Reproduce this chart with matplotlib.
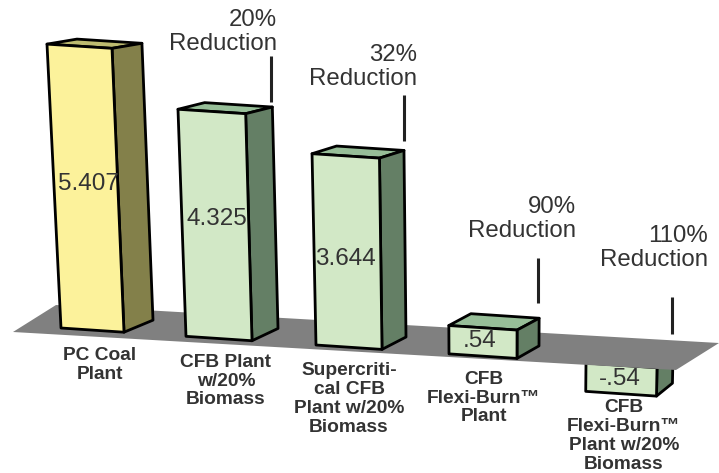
import matplotlib
matplotlib.use('Agg')
import matplotlib.pyplot as plt
from matplotlib.patches import Polygon

plt.rcParams['font.family'] = ['Liberation Sans', 'DejaVu Sans']

# Values
categories = ['PC Coal\nPlant', 'CFB Plant\nw/20%\nBiomass',
              'Supercriti-\ncal CFB\nPlant w/20%\nBiomass',
              'CFB\nFlexi-Burn™\nPlant',
              'CFB\nFlexi-Burn™\nPlant w/20%\nBiomass']
values = [5.407, 4.325, 3.644, 0.54, -0.54]
value_labels = ['5.407', '4.325', '3.644', '.54', '-.54']
reductions = ['', '20%\nReduction', '32%\nReduction', '90%\nReduction', '110%\nReduction']

# Fake 3D layout, in pixels
bar_left = [61, 186, 316, 449, 586]
bar_width = [63, 66, 66, 68, 71]
bar_depth = [29, 26, 24, 22, 16]
label_x = [100, 226, 349, 484, 624]
label_y = [365, 381, 399, 398, 436]
reduction_x = [0, 277, 417, 576, 708]
reduction_y = [0, 32, 67, 219, 248]
line_x = [0, 271, 404, 538, 672]
line_y = [(0, 0), (56, 102), (95, 141), (258, 303), (297, 334)]
value_x = [88, 217, 345, 480, 620]
value_y = [184, 219, 259, 341, 379]
plate = [(13, 332), (56, 305), (719, 343), (676, 370)]

PX_PER_UNIT = 52.5
TEXT = '#333333'


def project(x, value, back=0):
    # x along the floor, value up, back=1 is the rear of the bar
    base_y = 328 + 0.0667 * (x - 61)
    px = x + (x - 500) * value * 0.0059
    py = base_y - value * PX_PER_UNIT
    if back:
        py = py - 14 + max(value, 0) * 1.3
    return px, py


def draw_bar(ax, i, front, side, top, z):
    x0 = bar_left[i]
    x1 = x0 + bar_width[i]
    d = bar_depth[i]
    v = values[i]
    high = max(v, 0)
    low = min(v, 0)
    corners = {
        'fl': project(x0, low), 'fr': project(x1, low),
        'tl': project(x0, high), 'tr': project(x1, high),
        'br': project(x1 + d, low, 1), 'tbr': project(x1 + d, high, 1),
        'tbl': project(x0 + d, high, 1),
    }
    kw = dict(edgecolor='black', linewidth=2, joinstyle='round', zorder=z)
    ax.add_patch(Polygon([corners[k] for k in ('tl', 'tr', 'tbr', 'tbl')], facecolor=top, **kw))
    ax.add_patch(Polygon([corners[k] for k in ('tr', 'fr', 'br', 'tbr')], facecolor=side, **kw))
    ax.add_patch(Polygon([corners[k] for k in ('tl', 'tr', 'fr', 'fl')], facecolor=front, **kw))


fig = plt.figure(figsize=(7.19, 4.73), dpi=100)
ax = fig.add_axes([0, 0, 1, 1])
ax.set_xlim(0, 719)
ax.set_ylim(473, 0)
ax.axis('off')

# the negative bar hangs under the floor, the others stand on it
for i in range(len(values)):
    if i == 0:
        colors = ('#FCF29B', '#83804A', '#BDBB70')
    else:
        colors = ('#D2E8C6', '#647F65', '#97BE98')
    draw_bar(ax, i, *colors, z=1 if values[i] < 0 else 3)

ax.add_patch(Polygon(plate, facecolor='#808080', edgecolor='none', zorder=2))

for i, lab in enumerate(value_labels):
    ax.text(value_x[i], value_y[i], lab, fontsize=17.5, color=TEXT,
            ha='center', va='center', zorder=5)

for i, lab in enumerate(categories):
    ax.text(label_x[i], label_y[i], lab, fontsize=13.8, fontweight='bold', color=TEXT,
            ha='center', va='center', linespacing=1.14, zorder=5)

for i, lab in enumerate(reductions):
    if lab:
        ax.text(reduction_x[i], reduction_y[i], lab, fontsize=17.3, color=TEXT,
                ha='right', va='center', multialignment='right', linespacing=1.08, zorder=5)
        ax.plot([line_x[i], line_x[i]], line_y[i], color='#222222', lw=2.2,
                solid_capstyle='butt', zorder=5)

fig.savefig('out.png', dpi=100)
